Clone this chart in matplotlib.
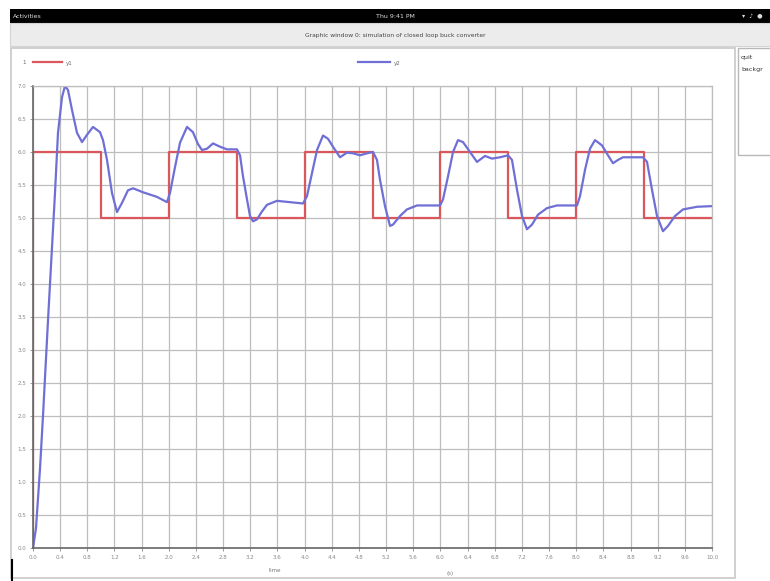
import matplotlib
matplotlib.use("Agg")
import matplotlib.pyplot as plt
from matplotlib.patches import Rectangle
from matplotlib.lines import Line2D

# reference voltage: starts at 0, then toggles 6 V / 5 V every second
ref_t = [0, 0, 1, 2, 3, 4, 5, 6, 7, 8, 9, 10]
ref_v = [0, 6, 5, 6, 5, 6, 5, 6, 5, 6, 5, 5]

# measured output voltage of the closed loop buck converter
out_t = [0.000, 0.044, 0.103, 0.147, 0.221, 0.280, 0.324, 0.368, 0.427, 0.471,
         0.515, 0.574, 0.648, 0.722, 0.795, 0.884, 0.987, 1.031, 1.090, 1.163,
         1.237, 1.311, 1.399, 1.473, 1.620, 1.826, 1.973, 2.018, 2.091, 2.165,
         2.268, 2.356, 2.430, 2.489, 2.563, 2.651, 2.754, 2.857, 3.004, 3.049,
         3.093, 3.152, 3.196, 3.240, 3.299, 3.373, 3.446, 3.594, 3.785, 3.976,
         4.035, 4.109, 4.183, 4.271, 4.345, 4.418, 4.521, 4.624, 4.713, 4.816,
         4.919, 5.007, 5.066, 5.110, 5.184, 5.258, 5.302, 5.405, 5.508, 5.655,
         5.994, 6.038, 6.112, 6.186, 6.259, 6.333, 6.436, 6.539, 6.657, 6.760,
         6.878, 6.996, 7.054, 7.128, 7.202, 7.275, 7.349, 7.437, 7.570, 7.717,
         8.012, 8.056, 8.130, 8.203, 8.277, 8.380, 8.468, 8.542, 8.616, 8.689,
         8.984, 9.043, 9.116, 9.190, 9.278, 9.352, 9.455, 9.573, 9.779, 10.000]
out_v = [0.00, 0.30, 1.20, 2.00, 3.45, 4.56, 5.38, 6.29, 6.83, 7.00,
         6.94, 6.64, 6.29, 6.15, 6.26, 6.38, 6.30, 6.18, 5.88, 5.38,
         5.09, 5.23, 5.42, 5.45, 5.39, 5.32, 5.24, 5.38, 5.77, 6.14,
         6.38, 6.30, 6.12, 6.03, 6.05, 6.13, 6.08, 6.04, 6.04, 5.95,
         5.63, 5.28, 5.03, 4.95, 4.98, 5.10, 5.20, 5.26, 5.24, 5.22,
         5.33, 5.68, 6.03, 6.25, 6.20, 6.08, 5.92, 5.99, 5.98, 5.95,
         5.98, 6.00, 5.88, 5.58, 5.18, 4.88, 4.90, 5.03, 5.13, 5.19,
         5.19, 5.28, 5.63, 6.00, 6.18, 6.15, 6.00, 5.85, 5.94, 5.90,
         5.92, 5.95, 5.88, 5.43, 5.03, 4.83, 4.90, 5.05, 5.15, 5.19,
         5.19, 5.33, 5.73, 6.05, 6.18, 6.10, 5.95, 5.83, 5.88, 5.92,
         5.92, 5.85, 5.43, 5.03, 4.80, 4.88, 5.03, 5.13, 5.17, 5.18]

x_ticks = [round(0.4 * i, 1) for i in range(26)]
y_ticks = [0.5 * i for i in range(15)]

W, H = 770, 581
fig = plt.figure(figsize=(W / 100, H / 100), dpi=100)
fig.patch.set_facecolor("white")


def box(x0, y0, x1, y1, **kw):
    # rectangle in pixel units measured from the top-left corner
    r = Rectangle((x0 / W, 1 - y1 / H), (x1 - x0) / W, (y1 - y0) / H,
                  transform=fig.transFigure, zorder=0, **kw)
    fig.add_artist(r)


def label(x, y, s, **kw):
    fig.text(x / W, 1 - y / H, s, va="center", zorder=3, **kw)


# desktop top bar and window title bar
box(10, 9, W, 23, facecolor="black", edgecolor="none")
label(13, 16, "Activities", color="#dddddd", fontsize=4.5)
label(395, 16, "Thu 9:41 PM", color="#dddddd", fontsize=4.5, ha="center")
label(752, 16, "▾  ♪  ●", color="#dddddd", fontsize=4.5, ha="center")
box(10, 23, W, 46, facecolor="#ececec", edgecolor="#d4d4d4", linewidth=0.8)
label(395, 35, "Graphic window 0: simulation of closed loop buck converter",
      color="#444444", fontsize=4.3, ha="center")

# graphic area and side panel
box(11, 48, 735, 578, facecolor="white", edgecolor="#c8c8c8", linewidth=1.2)
box(738, 48, 772, 155, facecolor="white", edgecolor="#b8b8b8", linewidth=1.0)
label(741, 57, "quit", color="#333333", fontsize=4.5)
label(741, 69, "backgr", color="#333333", fontsize=4.5)
fig.add_artist(Line2D([12 / W, 12 / W], [1 - 560 / H, 1 - 581 / H],
                      transform=fig.transFigure, color="black", linewidth=1.5))

ax = fig.add_axes([33 / W, 1 - 548 / H, 679 / W, 462 / H])
ax.set_zorder(2)
ax.patch.set_alpha(0)
ax.step(ref_t, ref_v, where="post", color="#d9585c", linewidth=1.6, label="y1")
ax.plot(out_t, out_v, color="#6f6fd6", linewidth=1.6, label="y2",
        solid_joinstyle="round")

ax.set_xlim(0, 10)
ax.set_ylim(0, 7)
ax.set_xticks(x_ticks)
ax.set_yticks(y_ticks)
ax.set_xticklabels([f"{v:.1f}" for v in x_ticks])
ax.set_yticklabels([f"{v:.1f}" for v in y_ticks])
ax.tick_params(labelsize=4, colors="#888888", length=2, width=0.6, pad=3)
ax.grid(True, color="#bdbdbd", linewidth=0.9)
ax.set_axisbelow(True)
for side in ("top", "right"):
    ax.spines[side].set_color("#bdbdbd")
    ax.spines[side].set_linewidth(0.9)
for side in ("left", "bottom"):
    ax.spines[side].set_color("#666666")
    ax.spines[side].set_linewidth(1.2)

# legend entries drawn along the top of the graphic area
fig.add_artist(Line2D([33 / W, 62 / W], [1 - 62 / H] * 2, transform=fig.transFigure,
                      color="#d9585c", linewidth=1.6, zorder=3))
label(66, 64, "y1", color="#666666", fontsize=4)
fig.add_artist(Line2D([358 / W, 390 / W], [1 - 62 / H] * 2, transform=fig.transFigure,
                      color="#6f6fd6", linewidth=1.6, zorder=3))
label(394, 64, "y2", color="#666666", fontsize=4)
label(22, 62, "1", color="#666666", fontsize=4)

label(275, 571, "time", color="#777777", fontsize=4, ha="center")
label(450, 574, "(s)", color="#777777", fontsize=4, ha="center")

fig.savefig("out.png", dpi=100)
